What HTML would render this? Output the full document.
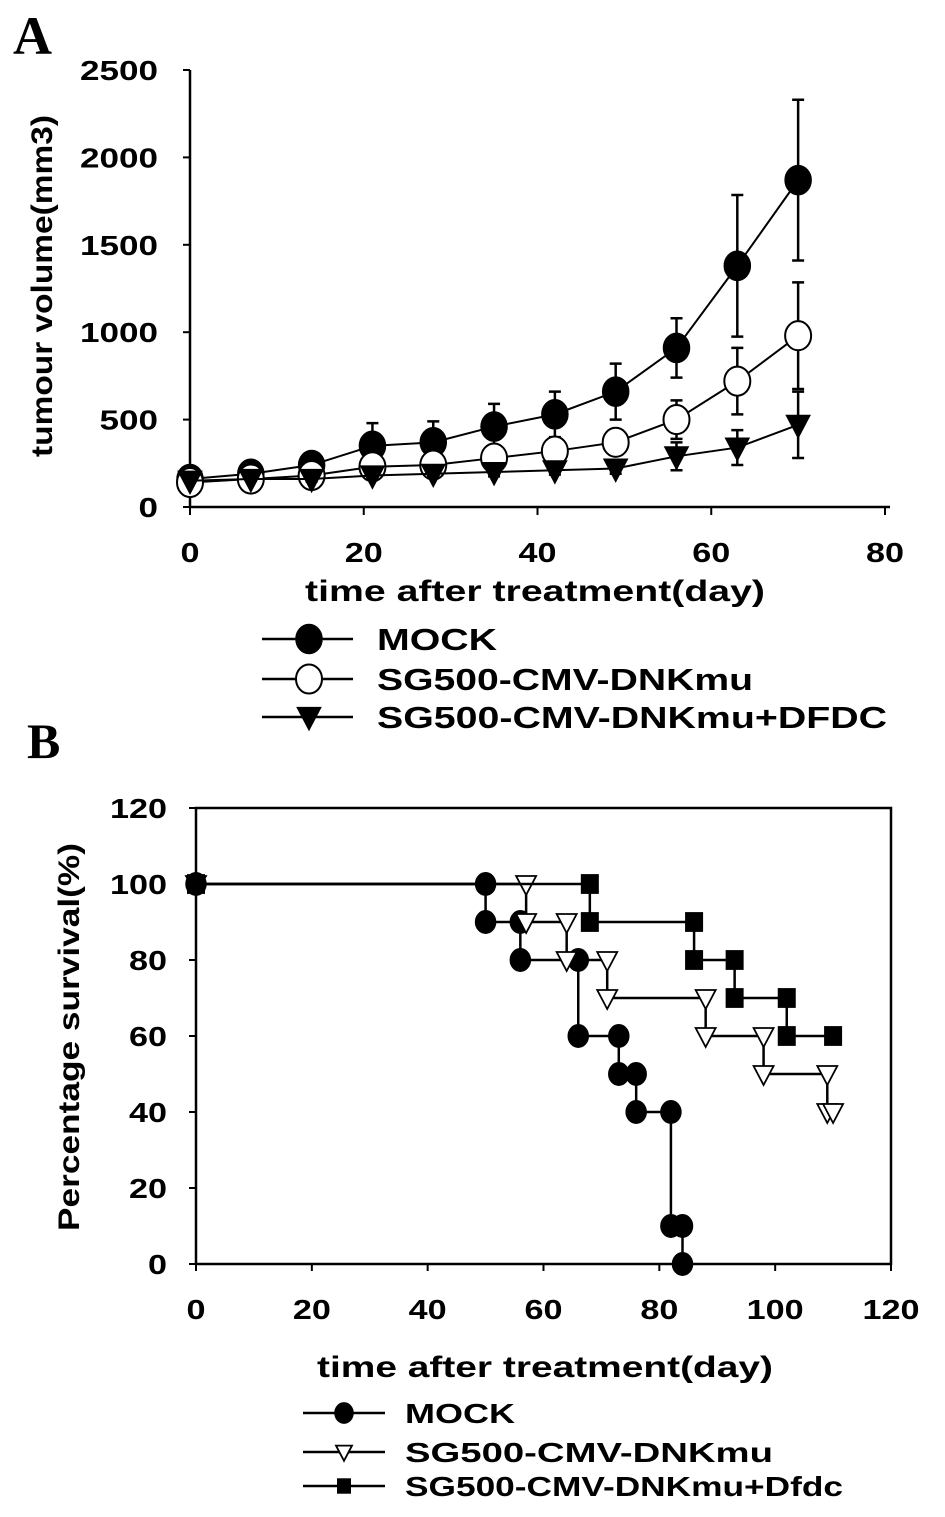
<!DOCTYPE html>
<html><head><meta charset="utf-8"><style>
html,body{margin:0;padding:0;background:#fff;}
svg{display:block;}
text{font-family:"Liberation Sans",Arial,sans-serif;font-weight:bold;fill:#000;}
.serif{font-family:"Liberation Serif",serif;}
</style></head><body>
<svg id="fig" width="945" height="1517" viewBox="0 0 945 1517" xmlns="http://www.w3.org/2000/svg">
<text class="serif" x="13" y="54" font-size="54">A</text>
<text class="serif" x="27" y="758" font-size="50">B</text>
<g id="chartA"></g>
<g id="chartB"></g>
</svg>
<script>
// ---- Chart A data ----
const daysA = [0,7,14,21,28,35,42,49,56,63,70];
const mockVol = [160,190,240,350,370,460,530,660,910,1380,1870];
const mockErr = [20,20,40,130,120,130,130,160,170,405,460];
const dnkVol = [140,160,180,230,240,280,320,370,500,720,980];
const dnkErr = [15,15,20,30,30,40,50,60,110,190,305];
const dfdcVol = [150,160,160,180,190,200,210,220,290,340,470];
const dfdcErr = [10,10,15,20,20,25,25,30,80,100,190];
const yTicksA = [0,500,1000,1500,2000,2500];
const xTicksA = [0,20,40,60,80];
// ---- Chart B data (Kaplan-Meier steps: event day, survival after event) ----
const xTicksB = [0,20,40,60,80,100,120];
const yTicksB = [0,20,40,60,80,100,120];
const mockT = [50,56,66,73,76,82,84];
const mockS = [90,80,60,50,40,10,0];
const mockEnd = 84;
const dnkT = [57,64,71,88,98,109];
const dnkS = [90,80,70,60,50,40];
const dnkEnd = 110;
const dfdcT = [68,86,93,102];
const dfdcS = [90,80,70,60];
const dfdcEnd = 110;

const NS = "http://www.w3.org/2000/svg";
function mk(parent, tag, attrs){
  const e = document.createElementNS(NS, tag);
  for (const k in attrs) e.setAttribute(k, attrs[k]);
  parent.appendChild(e);
  return e;
}
function txt(parent, x, y, s, size, anchor, len){
  const t = mk(parent, 'text', {x:x, y:y, 'font-size':size, 'text-anchor':anchor||'start'});
  if (len){ t.setAttribute('textLength', len); t.setAttribute('lengthAdjust','spacingAndGlyphs'); }
  t.textContent = s;
  return t;
}
function marker(parent, type, cx, cy, r){
  let e;
  if (type==='fcircle') e = mk(parent,'ellipse',{cx:cx,cy:cy,rx:r,ry:r*1.12,fill:'#000',stroke:'#000','stroke-width':1.5});
  else if (type==='ocircle') e = mk(parent,'ellipse',{cx:cx,cy:cy,rx:r,ry:r*1.12,fill:'#fff',stroke:'#000','stroke-width':2});
  else if (type==='ftri') e = mk(parent,'polygon',{points:`${cx-r},${cy-r*0.8} ${cx+r},${cy-r*0.8} ${cx},${cy+r*1.1}`,fill:'#000',stroke:'#000','stroke-width':1});
  else if (type==='otri') e = mk(parent,'polygon',{points:`${cx-r},${cy-r*0.8} ${cx+r},${cy-r*0.8} ${cx},${cy+r*1.1}`,fill:'#fff',stroke:'#000','stroke-width':1.8});
  else if (type==='square') e = mk(parent,'rect',{x:cx-r,y:cy-r*1.1,width:2*r,height:2.2*r,fill:'#000'});
  return e;
}

// ---------------- Chart A ----------------
(function(){
  const g = document.getElementById('chartA');
  const x0=190, x1=885, y0=507, y1=70;
  const xs = v => x0 + (v-0)/(80-0)*(x1-x0);
  const ys = v => y0 - v/2500*(y0-y1);
  mk(g,'line',{x1:x0,y1:y1,x2:x0,y2:y0,stroke:'#000','stroke-width':2.5});
  mk(g,'line',{x1:x0,y1:y0,x2:x1+5,y2:y0,stroke:'#000','stroke-width':2.5});
  yTicksA.forEach(v=>{
    const y=ys(v);
    mk(g,'line',{x1:x0-7,y1:y,x2:x0,y2:y,stroke:'#000','stroke-width':2});
    const t=txt(g,158,y+10,String(v),28,'end',String(v).length*19.5);
    
    
  });
  xTicksA.forEach(v=>{
    const x=xs(v);
    mk(g,'line',{x1:x,y1:y0,x2:x,y2:y0+8,stroke:'#000','stroke-width':2});
    const t=txt(g,x,562,String(v),28,'middle',String(v).length*19);
    
    
  });
  const yt = txt(g,0,0,'tumour volume(mm3)',30,'middle',342);
  yt.setAttribute('transform','translate(52,286) rotate(-90)');
  
  
  const xt = txt(g,535,601,'time after treatment(day)',30,'middle',460);
  
  

  const series = [
    {name:'mock', v:mockVol, e:mockErr, m:'fcircle', r:13},
    {name:'dnkmu', v:dnkVol, e:dnkErr, m:'ocircle', r:13},
    {name:'dfdc', v:dfdcVol, e:dfdcErr, m:'ftri', r:12}
  ];
  series.forEach(s=>{
    const sg = mk(g,'g',{});
    
    
    s.v.forEach((v,i)=>{
      const x=xs(daysA[i]);
      const eb = mk(sg,'path',{d:`M${x},${ys(v+s.e[i])}V${ys(v-s.e[i])}M${x-6},${ys(v+s.e[i])}h12M${x-6},${ys(v-s.e[i])}h12`,stroke:'#000','stroke-width':2.5,fill:'none'});
      
      
    });
    const pts = s.v.map((v,i)=>xs(daysA[i])+','+ys(v)).join(' ');
    const pl = mk(sg,'polyline',{points:pts,fill:'none',stroke:'#000','stroke-width':2});
    
    
    s.v.forEach((v,i)=>{
      const m = marker(sg,s.m,xs(daysA[i]),ys(v),s.r);
      
      
    });
  });
  // legend
  const leg = [['MOCK','fcircle',650,120],['SG500-CMV-DNKmu','ocircle',690,376],['SG500-CMV-DNKmu+DFDC','ftri',728,510]];
  leg.forEach(l=>{
    const lg = mk(g,'g',{});
    
    
    const cy=l[2]-11;
    mk(lg,'line',{x1:262,y1:cy,x2:353,y2:cy,stroke:'#000','stroke-width':2.5});
    marker(lg,l[1],309,cy,l[1]==='ftri'?12:13);
    txt(lg,377,l[2],l[0],31,'start',l[3]);
  });
})();

// ---------------- Chart B ----------------
(function(){
  const g = document.getElementById('chartB');
  const x0=196, x1=891, y0=1264, y1=808;
  const xs = v => x0 + v/120*(x1-x0);
  const ys = v => y0 - v/120*(y0-y1);
  mk(g,'rect',{x:x0,y:y1,width:x1-x0,height:y0-y1,fill:'none',stroke:'#000','stroke-width':2.5});
  yTicksB.forEach(v=>{
    const y=ys(v);
    mk(g,'line',{x1:x0-7,y1:y,x2:x0,y2:y,stroke:'#000','stroke-width':2});
    const t=txt(g,167,y+10,String(v),28,'end',String(v).length*19);
    
    
  });
  xTicksB.forEach(v=>{
    const x=xs(v);
    mk(g,'line',{x1:x,y1:y0,x2:x,y2:y0+7,stroke:'#000','stroke-width':2});
    const t=txt(g,x,1319,String(v),28,'middle',String(v).length*19);
    
    
  });
  const yt = txt(g,0,0,'Percentage survival(%)',30,'middle',388);
  yt.setAttribute('transform','translate(79,1037) rotate(-90)');
  
  
  const xt = txt(g,545,1377,'time after treatment(day)',30,'middle',456);
  
  

  const series = [
    {name:'mock', t:mockT, s:mockS, end:mockEnd, m:'fcircle', r:10},
    {name:'dnkmu', t:dnkT, s:dnkS, end:dnkEnd, m:'otri', r:10},
    {name:'dfdc', t:dfdcT, s:dfdcS, end:dfdcEnd, m:'square', r:9}
  ];
  series.forEach(s=>{
    const sg = mk(g,'g',{});
    
    
    let d = `M${xs(0)},${ys(100)}`;
    let prev = 100;
    const pts = [[0,100]];
    s.t.forEach((t,i)=>{
      d += `H${xs(t)}V${ys(s.s[i])}`;
      pts.push([t,prev]); pts.push([t,s.s[i]]);
      prev = s.s[i];
    });
    d += `H${xs(s.end)}`;
    if (s.end !== s.t[s.t.length-1]) pts.push([s.end,prev]);
    const p = mk(sg,'path',{d:d,fill:'none',stroke:'#000','stroke-width':2.5});
    
    
    pts.forEach(pt=>{
      const m = marker(sg,s.m,xs(pt[0]),ys(pt[1]),s.r);
      
      
    });
  });
  const leg = [['MOCK','fcircle',1423,110],['SG500-CMV-DNKmu','otri',1462,368],['SG500-CMV-DNKmu+Dfdc','square',1496,438]];
  leg.forEach(l=>{
    const lg = mk(g,'g',{});
    
    
    const cy=l[2]-10;
    mk(lg,'line',{x1:303,y1:cy,x2:385,y2:cy,stroke:'#000','stroke-width':2.5});
    marker(lg,l[1],344,cy,l[1]==='square'?7:l[1]==='otri'?8:9);
    txt(lg,405,l[2],l[0],28,'start',l[3]);
  });
})();
</script>
</body></html>
